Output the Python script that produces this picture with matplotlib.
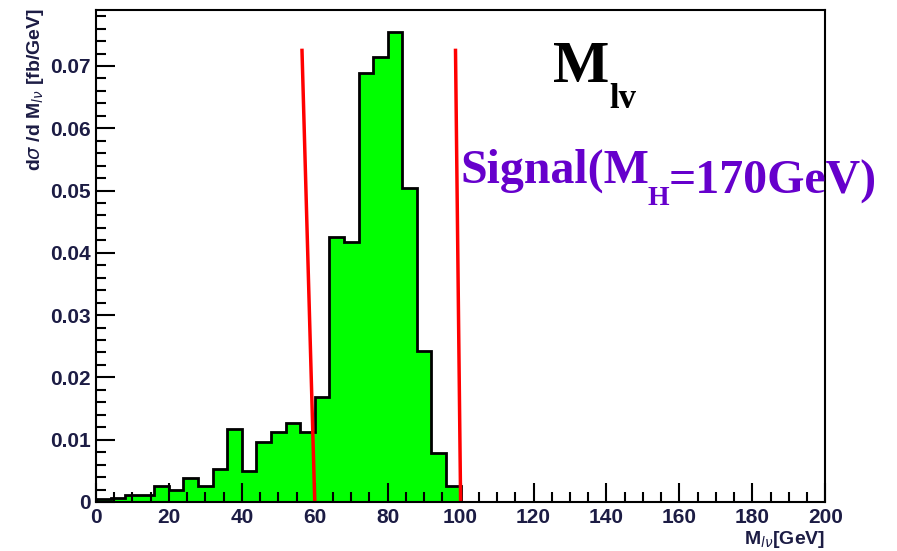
import numpy as np
import matplotlib.pyplot as plt
from matplotlib.ticker import MultipleLocator, FuncFormatter

# histogram of M_lv, 4 GeV bins from 0 to 100 (empty above)
bin_edges = np.arange(0, 104, 4)
xsec = [0.0005, 0.0006, 0.0011, 0.0011, 0.0026, 0.0020, 0.0038, 0.0026, 0.0053,
        0.0117, 0.0050, 0.0097, 0.0112, 0.0127, 0.0112, 0.0168, 0.0425, 0.0418,
        0.0688, 0.0714, 0.0755, 0.0504, 0.0242, 0.0078, 0.0025]

# cut lines (slightly tilted as in the slide)
cut_low_x = [56.5, 60.0]
cut_high_x = [98.6, 100.0]
cut_y = [0.0725, 0.0]

fig = plt.figure(figsize=(8.97, 5.51), dpi=100)
ax = fig.add_axes([0.107, 0.089, 0.813, 0.893])

ax.stairs(xsec, bin_edges, fill=True, color='#00ff00', linewidth=0)
ax.stairs(xsec, bin_edges, baseline=0, fill=False, color='black', linewidth=2)

ax.plot(cut_low_x, cut_y, color='#ff0000', linewidth=2.5)
ax.plot(cut_high_x, cut_y, color='#ff0000', linewidth=2.5)

ax.set_xlim(0, 200)
ax.set_ylim(0, 0.079)

tick_col = '#1c1c44'
ax.xaxis.set_major_locator(MultipleLocator(20))
ax.xaxis.set_minor_locator(MultipleLocator(5))
ax.yaxis.set_major_locator(MultipleLocator(0.01))
ax.yaxis.set_minor_locator(MultipleLocator(0.002))
ax.yaxis.set_major_formatter(FuncFormatter(lambda v, p: '0' if abs(v) < 1e-9 else f'{v:.2f}'))
ax.tick_params(which='both', direction='in', width=1.5, top=False, right=False,
               labelsize=15, labelcolor=tick_col)
ax.tick_params(which='major', length=14, pad=4)
ax.tick_params(which='minor', length=7)
for lab in ax.get_xticklabels() + ax.get_yticklabels():
    lab.set_fontweight('bold')
    lab.set_family('Liberation Sans')
for s in ax.spines.values():
    s.set_linewidth(1.5)

# axis titles, ROOT style
fig.text(0.040, 0.985, r'd$\sigma$ /d M$_{l\nu}$ [fb/GeV]', rotation=90, ha='center', va='top',
         fontsize=14, fontweight='bold', family='Liberation Sans', color=tick_col)
fig.text(0.92, 0.002, r'M$_{l\nu}$[GeV]', ha='right', va='bottom',
         fontsize=14, fontweight='bold', family='Liberation Sans', color=tick_col)

# big labels
serif = 'Liberation Serif'
m = fig.text(553 / 897, 1 - 82 / 551, 'M', ha='left', va='baseline',
             fontsize=43, fontweight='bold', family=serif, color='black')
fig.canvas.draw()
ax.annotate('lv', xy=(1, 0), xycoords=m, xytext=(0, -9), textcoords='offset points',
            ha='left', va='baseline', fontsize=25, fontweight='bold', family=serif, color='black')

purple = '#6600cc'
s1 = fig.text(460 / 897, 1 - 183 / 551, 'Signal(M', ha='left', va='baseline',
              fontsize=34.5, fontweight='bold', family=serif, color=purple)
s2 = ax.annotate('H', xy=(1, 0), xycoords=s1, xytext=(-1, -8), textcoords='offset points',
                 ha='left', va='baseline', fontsize=20, fontweight='bold', family=serif, color=purple)
ax.annotate('=170GeV)', xy=(1, 0), xycoords=s1, xytext=(14, 0), textcoords='offset points',
            ha='left', va='baseline', fontsize=34.5, fontweight='bold', family=serif, color=purple)

fig.savefig('out.png', dpi=100)
